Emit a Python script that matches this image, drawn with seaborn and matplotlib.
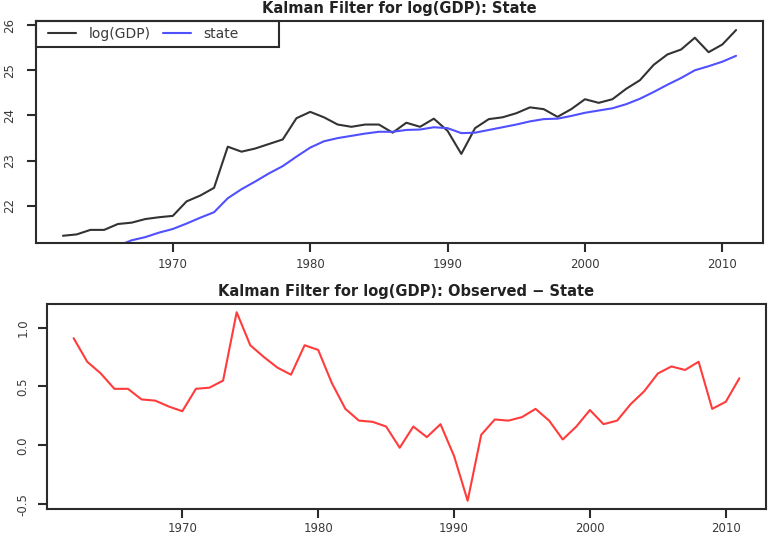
import numpy as np
import pandas as pd
import matplotlib
matplotlib.use("Agg")
import matplotlib.pyplot as plt
import seaborn as sns
from matplotlib.patches import Rectangle

### DATA ###
years = list(range(1962, 2012))
log_gdp = [21.34, 21.37, 21.47, 21.47, 21.60, 21.63, 21.71, 21.75, 21.78, 22.10,
           22.23, 22.40, 23.31, 23.20, 23.27, 23.37, 23.47, 23.94, 24.08, 23.96,
           23.80, 23.75, 23.80, 23.80, 23.62, 23.84, 23.75, 23.93, 23.66, 23.15,
           23.72, 23.92, 23.96, 24.05, 24.18, 24.14, 23.97, 24.14, 24.36, 24.28,
           24.36, 24.59, 24.78, 25.12, 25.35, 25.46, 25.72, 25.40, 25.57, 25.89]
state = [20.43, 20.67, 20.86, 20.99, 21.12, 21.24, 21.31, 21.41, 21.49, 21.61,
         21.74, 21.86, 22.17, 22.37, 22.54, 22.72, 22.88, 23.09, 23.29, 23.43,
         23.50, 23.55, 23.60, 23.64, 23.64, 23.68, 23.69, 23.74, 23.72, 23.61,
         23.62, 23.68, 23.74, 23.80, 23.87, 23.92, 23.93, 23.99, 24.06, 24.11,
         24.16, 24.25, 24.37, 24.52, 24.68, 24.83, 25.00, 25.09, 25.19, 25.32]
obs_minus_state = [0.91, 0.71, 0.61, 0.48, 0.48, 0.39, 0.38, 0.33, 0.29, 0.48,
                   0.49, 0.55, 1.13, 0.85, 0.75, 0.66, 0.60, 0.85, 0.81, 0.53,
                   0.31, 0.21, 0.20, 0.16, -0.02, 0.16, 0.07, 0.18, -0.09, -0.47,
                   0.09, 0.22, 0.21, 0.24, 0.31, 0.21, 0.05, 0.16, 0.30, 0.18,
                   0.21, 0.35, 0.46, 0.61, 0.67, 0.64, 0.71, 0.31, 0.37, 0.57]
x_ticks = [1970, 1980, 1990, 2000, 2010]
top_yticks = [22, 23, 24, 25, 26]
bottom_yticks = [-0.5, 0.0, 0.5, 1.0]

df = pd.DataFrame({"Year": years, "log(GDP)": log_gdp, "state": state,
                   "resid": obs_minus_state})

### STYLE ###
sns.set_style("ticks")
plt.rcParams["font.family"] = ["DejaVu Sans"]
SPINE = "#2b2b2b"
TXT = "#3a3a3a"

fig = plt.figure(figsize=(7.68, 5.35), dpi=100)
ax1 = fig.add_axes([36 / 768, 1 - 243 / 535, 727 / 768, 222 / 535])
ax2 = fig.add_axes([47 / 768, 1 - 509 / 535, 719 / 768, 205 / 535])

# TOP PANEL
sns.lineplot(data=df, x="Year", y="log(GDP)", ax=ax1, color="#333333", lw=1.5,
             label="log(GDP)", legend=False)
sns.lineplot(data=df, x="Year", y="state", ax=ax1, color="#5050ff", lw=1.5,
             label="state", legend=False)
ax1.set_xlim(1960.04, 2012.96)
ax1.set_ylim(21.18, 26.09)
ax1.set_yticks(top_yticks)
ax1.set_yticklabels([str(v) for v in top_yticks])
ax1.set_title("Kalman Filter for log(GDP): State", fontsize=10.5,
              fontweight="bold", color="#222222", pad=6)
handles, labels = ax1.get_legend_handles_labels()
ax1.legend(handles, labels, loc="center left", bbox_to_anchor=(0.017, 0.941),
           ncol=2, frameon=False, fontsize=10, borderpad=0, borderaxespad=0,
           handlelength=2.0, handletextpad=0.9, columnspacing=0.9,
           labelcolor=TXT)
ax1.add_patch(Rectangle((0, 0.883), 0.334, 0.117, transform=ax1.transAxes,
                        fill=False, ec=SPINE, lw=1.5, zorder=5, clip_on=False))
ax1.tick_params(axis="y", pad=8)
ax1.tick_params(axis="x", pad=4)

# BOTTOM PANEL
sns.lineplot(data=df, x="Year", y="resid", ax=ax2, color="#ff3c3c", lw=1.5)
ax2.set_xlim(1960.04, 2012.96)
ax2.set_ylim(-0.54, 1.2)
ax2.set_yticks(bottom_yticks)
ax2.set_yticklabels([f"{v:.1f}" for v in bottom_yticks])
ax2.set_title("Kalman Filter for log(GDP): Observed \u2212 State", fontsize=10.5,
              fontweight="bold", color="#222222", pad=6)
ax2.tick_params(axis="y", pad=6)
ax2.tick_params(axis="x", pad=2.5)

for ax in (ax1, ax2):
    ax.set_xticks(x_ticks)
    ax.set_xlabel("")
    ax.set_ylabel("")
    for sp in ax.spines.values():
        sp.set_visible(True)
        sp.set_color(SPINE)
        sp.set_linewidth(1.5)
    ax.tick_params(axis="both", length=6.5, width=1.5, color=SPINE,
                   labelsize=8.5, labelcolor=TXT)
    ax.tick_params(axis="y", labelrotation=90)
    for lab in ax.get_yticklabels():
        lab.set_va("center")

fig.savefig("out.png", dpi=100)
